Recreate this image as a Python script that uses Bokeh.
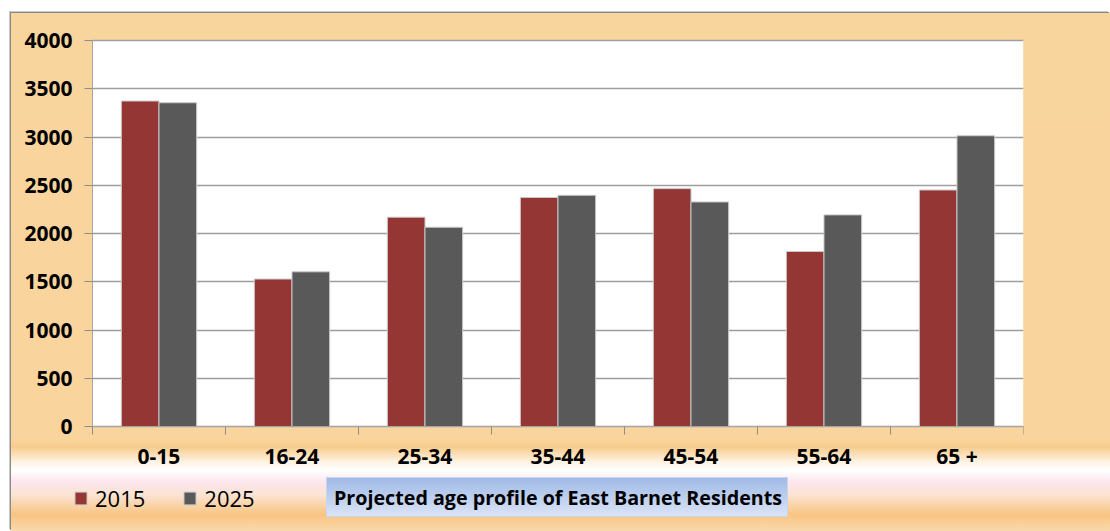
from bokeh.plotting import figure
from bokeh.models import (ColumnDataSource, FixedTicker, Legend, LegendItem,
                          Label, BoxAnnotation)
from bokeh.transform import dodge
from bokeh.embed import file_html
from bokeh.resources import INLINE

# Population by age band, projected for two years
age_groups = ["0-15", "16-24", "25-34", "35-44", "45-54", "55-64", "65 +"]
pop_2015 = [3373, 1528, 2169, 2373, 2465, 1814, 2451]
pop_2025 = [3355, 1603, 2065, 2396, 2327, 2193, 3013]
series_labels = ["2015", "2025"]
y_ticks = [0, 500, 1000, 1500, 2000, 2500, 3000, 3500, 4000]
chart_title = "Projected age profile of East Barnet Residents"

RED = "#943634"
GREY = "#595959"
FONT = "Open Sans"

N = len(age_groups)
Y_MAX = 4000
# extra room around the bands for labels, legend and caption
Y_FLOOR = -1088
Y_CEIL = 4280
X_FLOOR = -0.609

centers = [i + 0.5 for i in range(N)]
bounds = [float(i) for i in range(N + 1)]

src = ColumnDataSource(dict(x=centers, a=pop_2015, b=pop_2025))

p = figure(
    width=1099, height=518,
    x_range=(X_FLOOR, N), y_range=(Y_FLOOR, Y_CEIL),
    output_backend="svg", toolbar_location=None,
    min_border_left=0, min_border_right=87,
    min_border_top=0, min_border_bottom=0,
)
p.margin = (13, 0, 0, 11)
p.border_fill_alpha = 0
p.background_fill_alpha = 0
p.outline_line_color = None

orange_band = (
    "linear-gradient(to bottom, #F9D59E 0px, #F9D49C 427px, #F8CC8C 434px, "
    "#FEF3E4 449px, #FFFFFF 457px, #FCE6EE 469px, #FBE3D3 482px, "
    "#F8C581 502px, #FAD9AC 518px)"
)
title_box = "linear-gradient(to bottom, #9FBAE6 0%, #DAE4F6 100%)"
title_edge = "linear-gradient(#C9D5EC, #C9D5EC)"
p.styles = {
    "background-image": f"{title_box}, {title_edge}, {orange_band}",
    "background-position": "316px 465px, 315px 464px, 0 0",
    "background-size": "460px 38px, 462px 40px, 100% 100%",
    "background-repeat": "no-repeat",
    "box-shadow": "-1px -1px 0 0 #8a8a8a, -2px -2px 0 0 #c8c8c8",
}

# white plotting area
p.add_layout(BoxAnnotation(left=0, right=N, bottom=0, top=Y_MAX,
                           fill_color="white", fill_alpha=1, line_color=None,
                           level="image"))

r1 = p.vbar(x=dodge("x", -0.1415), top="a", width=0.283, source=src,
            fill_color=RED, line_color="#C9C9C9", line_width=1)
r2 = p.vbar(x=dodge("x", 0.1415), top="b", width=0.283, source=src,
            fill_color=GREY, line_color="#C9C9C9", line_width=1)

# y axis on the left edge of the bands
p.yaxis.fixed_location = 0
p.yaxis.ticker = FixedTicker(ticks=y_ticks)
p.yaxis.bounds = (0, Y_MAX)
p.yaxis.axis_line_color = "#A6A6A6"
p.yaxis.major_tick_line_color = "#8C8C8C"
p.yaxis.major_tick_out = 8
p.yaxis.major_tick_in = 0
p.yaxis.minor_tick_line_color = None
p.yaxis.major_label_standoff = 12
p.yaxis.major_label_text_font = FONT
p.yaxis.major_label_text_font_style = "bold"
p.yaxis.major_label_text_font_size = "21px"
p.yaxis.major_label_text_color = "black"

# x axis on the zero line: labels at band centres, ticks on band edges
p.xaxis.fixed_location = 0
p.xaxis.bounds = (0, N)
p.xaxis.ticker = FixedTicker(ticks=centers, minor_ticks=bounds)
p.xaxis.major_label_overrides = {c: g for c, g in zip(centers, age_groups)}
p.xaxis.axis_line_color = "#A6A6A6"
p.xaxis.major_tick_line_color = None
p.xaxis.major_tick_out = 8
p.xaxis.major_tick_in = 0
p.xaxis.minor_tick_line_color = "#8C8C8C"
p.xaxis.minor_tick_out = 8
p.xaxis.minor_tick_in = 0
p.xaxis.major_label_standoff = 7
p.xaxis.major_label_text_font = FONT
p.xaxis.major_label_text_font_style = "bold"
p.xaxis.major_label_text_font_size = "21px"
p.xaxis.major_label_text_color = "black"

p.xgrid.grid_line_color = None
p.ygrid.ticker = FixedTicker(ticks=y_ticks)
p.ygrid.cross_bounds = (0, N)
p.ygrid.grid_line_color = "#9E9E9E"
p.ygrid.grid_line_width = 1.5

legend = Legend(
    items=[LegendItem(label=series_labels[0], renderers=[r1]),
           LegendItem(label=series_labels[1], renderers=[r2])],
    orientation="horizontal", location=(62, 18),
    padding=0, margin=0, spacing=37,
    glyph_width=15, glyph_height=16, label_standoff=7,
    label_text_font=FONT, label_text_font_size="22px",
    label_text_color="black",
    background_fill_alpha=0, border_line_color=None,
)
p.add_layout(legend, "center")

title = Label(
    x=N / 2, y=34, y_units="screen", text=chart_title,
    text_align="center", text_baseline="middle",
    text_font=FONT, text_font_style="bold", text_font_size="19.7px",
    text_color="black",
)
p.add_layout(title)

open("out.html", "w").write(file_html(p, INLINE))
